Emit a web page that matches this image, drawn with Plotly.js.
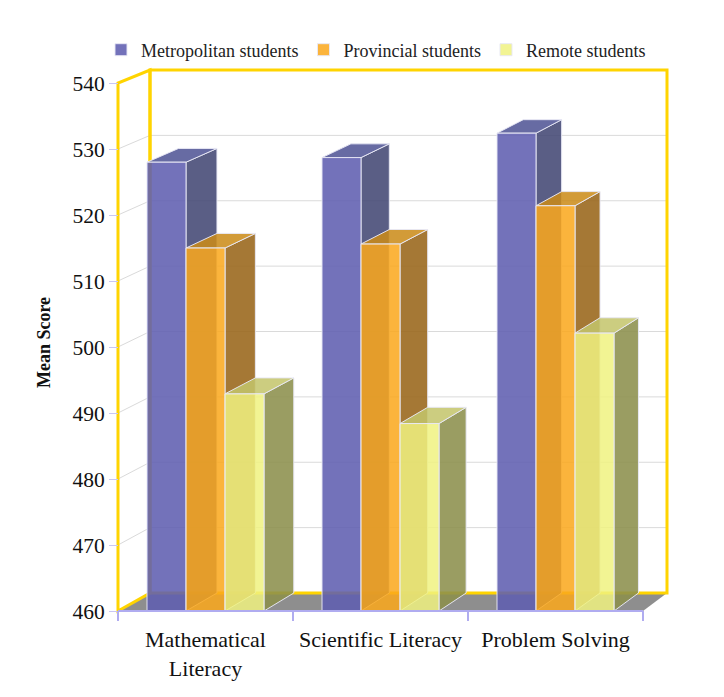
<!DOCTYPE html>
<html><head><meta charset="utf-8">
<script src="https://cdn.plot.ly/plotly-3.0.1.min.js"></script>
<style>html,body{margin:0;padding:0;background:#fff}</style>
</head><body><div id="chart" style="width:724px;height:697px"></div>
<script>
// ---- data ----
const categories = ['Mathematical<br>Literacy', 'Scientific Literacy', 'Problem Solving'];
const seriesNames = ['Metropolitan students', 'Provincial students', 'Remote students'];
const metropolitan = [528, 528.7, 532.4];
const provincial = [515, 515.6, 521.4];
const remote = [492.9, 488.4, 502.1];
const yTicks = [460, 470, 480, 490, 500, 510, 520, 530, 540];

// ---- styling / geometry ----
const W = 724, H = 697;
const L = 108, R = 680, T = 60, B = 625;
const xFront0 = 118, catPx = 175;
const yBasePx = 611, pxPerUnit = 6.6;
const BASE = 460, TOP = 540;
const xr = [-0.5 - (xFront0 - L) / catPx, -0.5 + (R - xFront0) / catPx];
const yr = [BASE - (B - yBasePx) / pxPerUnit, BASE + (yBasePx - T) / pxPerUnit];
const barW = 39 / catPx;

const frontColors = ['rgba(96,94,176,0.88)', 'rgba(250,168,28,0.86)', 'rgba(240,242,128,0.85)'];
const sideColors = ['rgba(67,72,116,0.88)', 'rgba(152,101,25,0.88)', 'rgba(140,143,76,0.88)'];
const topColors = ['rgba(82,86,150,0.88)', 'rgba(203,138,23,0.86)', 'rgba(196,197,107,0.86)'];
const edge = 'rgba(232,232,244,0.95)';
const yellow = '#FFD400';
const lavender = '#B0ACF0';

function dX(xd) { return (32 - 8 * (xd + 0.5) / 3) / catPx; }
function dY(yd) { return (18 - 5 * (yd - BASE) / (TOP - BASE)) / pxPerUnit; }
function back(xd, yd) { return [xd + dX(xd), yd + dY(yd)]; }
function pathOf(pts, close) { return 'M' + pts.map(p => p[0].toFixed(5) + ',' + p[1].toFixed(5)).join('L') + (close === false ? '' : 'Z'); }

const series = [metropolitan, provincial, remote];
const shapes = [];
// gridlines on side + back wall
yTicks.slice(1, -1).forEach(v => {
  shapes.push({type: 'path', xref: 'x', yref: 'y', layer: 'below',
    path: pathOf([[-0.5, v], back(-0.5, v), back(2.5, v)], false),
    line: {color: '#DADADA', width: 1}});
});
// floor
shapes.push({type: 'path', xref: 'x', yref: 'y', layer: 'below',
  path: pathOf([[-0.5, BASE], [2.5, BASE], back(2.5, BASE), back(-0.5, BASE)]),
  fillcolor: '#8E8E8E', line: {width: 0}});
// left wall outline
shapes.push({type: 'path', xref: 'x', yref: 'y', layer: 'below',
  path: pathOf([[-0.5, BASE], [-0.5, TOP], back(-0.5, TOP), back(-0.5, BASE)]),
  line: {color: yellow, width: 3}});
// back wall outline
shapes.push({type: 'path', xref: 'x', yref: 'y', layer: 'below',
  path: pathOf([back(-0.5, BASE), back(-0.5, TOP), back(2.5, TOP), back(2.5, BASE)]),
  line: {color: yellow, width: 3}});
// bar sides and tops
categories.forEach((c, ci) => {
  series.forEach((vals, si) => {
    const a = ci - 1.5 * barW + si * barW, b = a + barW, v = vals[ci];
    shapes.push({type: 'path', xref: 'x', yref: 'y', layer: 'below',
      path: pathOf([[b, BASE], [b, v], back(b, v), back(b, BASE)]),
      fillcolor: sideColors[si], line: {color: edge, width: 1}});
    shapes.push({type: 'path', xref: 'x', yref: 'y', layer: 'below',
      path: pathOf([[a, v], [b, v], back(b, v), back(a, v)]),
      fillcolor: topColors[si], line: {color: edge, width: 1}});
  });
});
// front axis line and boundary ticks
shapes.push({type: 'line', xref: 'x', yref: 'y', layer: 'above', x0: -0.5, x1: 2.5, y0: BASE, y1: BASE,
  line: {color: lavender, width: 2}});
[-0.5, 0.5, 1.5, 2.5].forEach(b => {
  shapes.push({type: 'line', xref: 'x', yref: 'y', layer: 'above', x0: b, x1: b, y0: BASE, y1: BASE - 10 / pxPerUnit,
    line: {color: lavender, width: 2}});
});

const traces = series.map((vals, si) => ({
  type: 'bar', name: seriesNames[si], x: [0, 1, 2], y: vals.map(v => v - BASE), base: BASE,
  width: barW, offset: -1.5 * barW + si * barW,
  marker: {color: frontColors[si], line: {color: edge, width: 1}},
  hoverinfo: 'skip'
}));

const layout = {
  width: W, height: H,
  margin: {l: L, r: W - R, t: T, b: H - B, pad: 0},
  paper_bgcolor: '#fff', plot_bgcolor: '#fff',
  barmode: 'overlay',
  showlegend: true,
  legend: {orientation: 'h', x: -7 / (R - L), xanchor: 'left', y: 1 + (T - 50) / (B - T), yanchor: 'middle',
    font: {family: 'Liberation Serif', size: 18, color: '#222'}, bgcolor: 'rgba(0,0,0,0)'},
  xaxis: {range: xr, anchor: 'free', position: (B - yBasePx) / (B - T), tickvals: [0, 1, 2], ticktext: categories,
    ticks: 'outside', ticklen: 9, tickcolor: 'rgba(0,0,0,0)', showgrid: false, zeroline: false, showline: false,
    tickfont: {family: 'Liberation Serif', size: 22, color: '#111'}, fixedrange: true},
  yaxis: {range: yr, anchor: 'free', position: (xFront0 - L) / (R - L), tickvals: yTicks,
    ticks: 'outside', ticklen: 9, tickcolor: '#C9C7F3', tickwidth: 1, showgrid: false, zeroline: false, showline: false,
    tickfont: {family: 'Liberation Serif', size: 21.5, color: '#111'},
    title: {text: '<b>Mean Score</b>', font: {family: 'Liberation Serif', size: 18, color: '#111'}, standoff: 16},
    fixedrange: true},
  shapes: shapes
};

Plotly.newPlot('chart', traces, layout, {displayModeBar: false, staticPlot: true});
</script>
</body></html>
